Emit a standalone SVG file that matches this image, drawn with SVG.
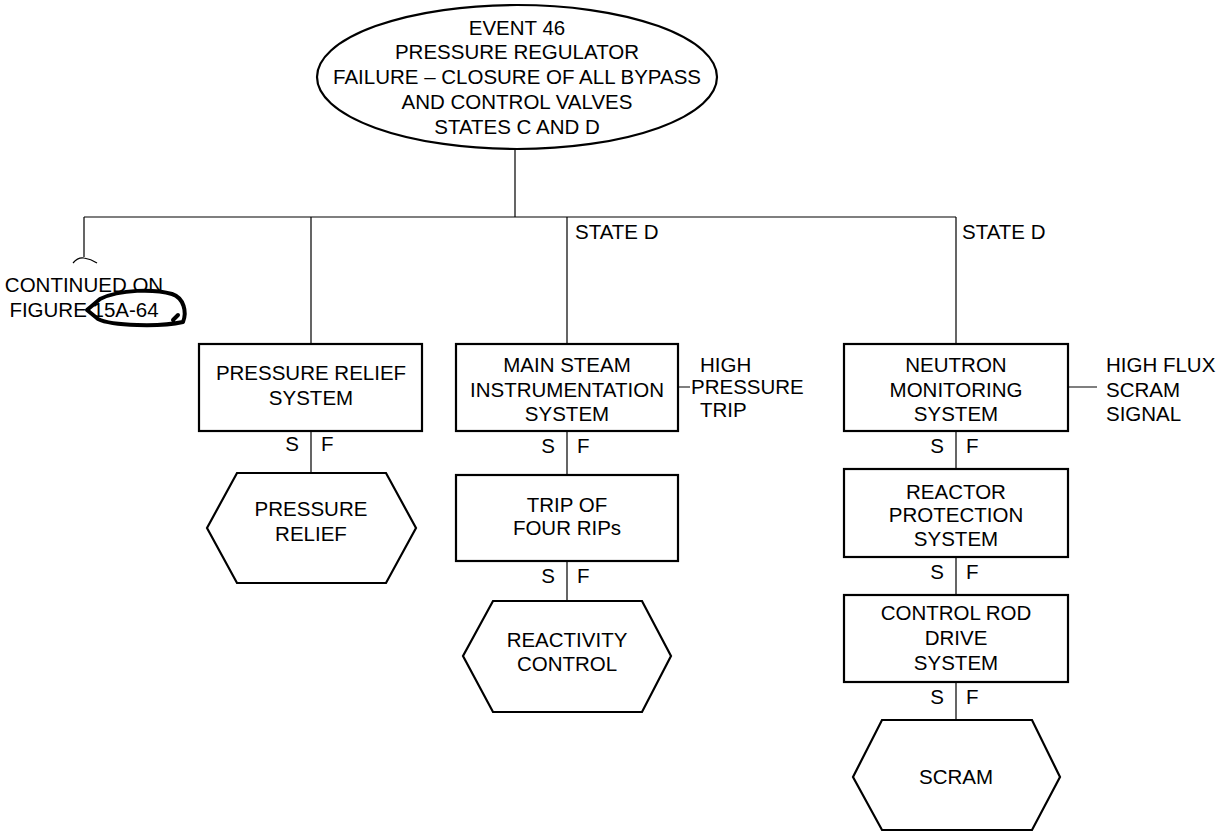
<svg xmlns="http://www.w3.org/2000/svg" width="1225" height="833" viewBox="0 0 1225 833">
<style>
text{font-family:"Liberation Sans",Arial,sans-serif;font-size:20.5px;fill:#000}
.c{text-anchor:middle}
.e{text-anchor:end}
.box{fill:#fff;stroke:#000;stroke-width:2.2}
.ln{fill:none;stroke:#000;stroke-width:1.2}
</style>
<rect width="1225" height="833" fill="#fff"/>
<g id="connectors">
<path class="ln" d="M515 149V217M84 217H956M84 217V257M311 217V344M567 217V344M956 217V344"/>
<path class="ln" d="M73 263Q78 257 84 258Q91 259 97 263"/>
<path class="ln" d="M311 431V473M567 431V475M567 561V601M956 431V469M956 557V595M956 682V720"/>
<path class="ln" d="M678 387H690M1068 387H1097"/>
</g>
<g id="event">
<ellipse cx="517" cy="77" rx="200" ry="72" fill="#fff" stroke="#000" stroke-width="2.2"/>
<text class="c" x="517" y="35">EVENT 46</text>
<text class="c" x="517" y="59">PRESSURE REGULATOR</text>
<text class="c" x="517" y="84">FAILURE – CLOSURE OF ALL BYPASS</text>
<text class="c" x="517" y="109">AND CONTROL VALVES</text>
<text class="c" x="517" y="134">STATES C AND D</text>
</g>
<g id="continued">
<text class="c" x="84" y="292">CONTINUED ON</text>
<text class="c" x="84" y="317">FIGURE 15A-64</text>
<path d="M100 299L87 310L98 319C112 326 160 327 183 322C187 312 184 298 172 294C155 289 120 289 100 299M178 315L173 320" fill="none" stroke="#000" stroke-width="4" stroke-linejoin="round" stroke-linecap="round"/>
</g>
<g id="stated1"><text x="575" y="239">STATE D</text></g>
<g id="stated2"><text x="962" y="239">STATE D</text></g>
<g id="prs">
<rect class="box" x="199" y="344" width="223" height="87"/>
<text class="c" x="311" y="380">PRESSURE RELIEF</text>
<text class="c" x="311" y="405">SYSTEM</text>
<text class="e" x="299" y="451">S</text><text x="321" y="451">F</text>
</g>
<g id="pr">
<polygon class="box" points="237,473 386,473 416,528 386,583 237,583 207,528"/>
<text class="c" x="311" y="516">PRESSURE</text>
<text class="c" x="311" y="541">RELIEF</text>
</g>
<g id="msis">
<rect class="box" x="456" y="344" width="222" height="87"/>
<text class="c" x="567" y="372">MAIN STEAM</text>
<text class="c" x="567" y="397">INSTRUMENTATION</text>
<text class="c" x="567" y="421">SYSTEM</text>
<text class="e" x="555" y="453">S</text><text x="577" y="453">F</text>
<text x="700" y="372">HIGH</text>
<text x="691" y="394">PRESSURE</text>
<text x="700" y="417">TRIP</text>
</g>
<g id="trip">
<rect class="box" x="456" y="475" width="222" height="86"/>
<text class="c" x="567" y="512">TRIP OF</text>
<text class="c" x="567" y="535">FOUR RIPs</text>
<text class="e" x="555" y="583">S</text><text x="577" y="583">F</text>
</g>
<g id="rc">
<polygon class="box" points="493,601 642,601 671,656 642,712 493,712 463,656"/>
<text class="c" x="567" y="647">REACTIVITY</text>
<text class="c" x="567" y="671">CONTROL</text>
</g>
<g id="nms">
<rect class="box" x="844" y="344" width="224" height="87"/>
<text class="c" x="956" y="372">NEUTRON</text>
<text class="c" x="956" y="397">MONITORING</text>
<text class="c" x="956" y="421">SYSTEM</text>
<text class="e" x="944" y="453">S</text><text x="966" y="453">F</text>
<text x="1106" y="372">HIGH FLUX</text>
<text x="1106" y="397">SCRAM</text>
<text x="1106" y="421">SIGNAL</text>
</g>
<g id="rps">
<rect class="box" x="844" y="469" width="224" height="88"/>
<text class="c" x="956" y="499">REACTOR</text>
<text class="c" x="956" y="522">PROTECTION</text>
<text class="c" x="956" y="546">SYSTEM</text>
<text class="e" x="944" y="579">S</text><text x="966" y="579">F</text>
</g>
<g id="crd">
<rect class="box" x="844" y="595" width="224" height="87"/>
<text class="c" x="956" y="620">CONTROL ROD</text>
<text class="c" x="956" y="645">DRIVE</text>
<text class="c" x="956" y="670">SYSTEM</text>
<text class="e" x="944" y="704">S</text><text x="966" y="704">F</text>
</g>
<g id="scram">
<polygon class="box" points="882,720 1032,720 1060,777 1032,830 882,830 853,777"/>
<text class="c" x="956" y="784">SCRAM</text>
</g>
</svg>
